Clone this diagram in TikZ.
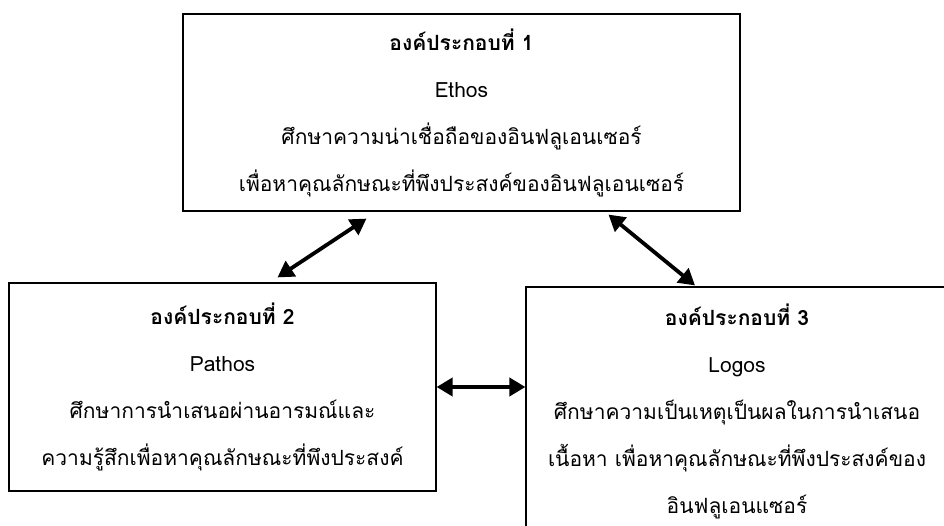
\documentclass[tikz,border=0pt]{standalone}
\usepackage{fontspec}
\setmainfont[Script=Thai]{Loma}
\usetikzlibrary{arrows.meta}

\begin{document}
\begin{tikzpicture}[x=1pt,y=-1pt,<->,>={Triangle[length=16pt,width=18pt]},
    box/.style={draw,line width=1.2pt,inner sep=0pt,align=center,font=\fontsize{21}{47}\selectfont},
    link/.style={line width=3.8pt}]
            %    \tikzstyle{every node}+=[inner sep=0pt]
            \useasboundingbox (0,0) rectangle (944,526);

            \node[box,minimum width=557pt,minimum height=197pt] (Ethos) at (461.5,112.5)
            {\textbf{องค์ประกอบที่ 1}\\Ethos\\ศึกษาความน่าเชื่อถือของอินฟลูเอนเซอร์\\เพื่อหาคุณลักษณะที่พึงประสงค์ของอินฟลูเอนเซอร์};
            \node[box,minimum width=427pt,minimum height=208pt] (Pathos) at (222.5,387)
            {\textbf{องค์ประกอบที่ 2}\\Pathos\\ศึกษาการนำเสนอผ่านอารมณ์และ\\ความรู้สึกเพื่อหาคุณลักษณะที่พึงประสงค์};
            \node[box,minimum width=422pt,minimum height=248pt] (Logos) at (737,411)
            {\textbf{องค์ประกอบที่ 3}\\Logos\\ศึกษาความเป็นเหตุเป็นผลในการนำเสนอ\\เนื้อหา เพื่อหาคุณลักษณะที่พึงประสงค์ของ\\อินฟลูเอนแซอร์};

            \draw[link] ([xshift=55pt,yshift=5pt]Pathos.north) -- ([xshift=-95pt,yshift=-7pt]Ethos.south);
            \draw[link] ([xshift=147pt,yshift=-3pt]Ethos.south) -- ([xshift=-42pt,yshift=1pt]Logos.north);
            \draw[link] (Pathos.east) -- (Pathos.east -| Logos.west);
        \end{tikzpicture}
\end{document}
